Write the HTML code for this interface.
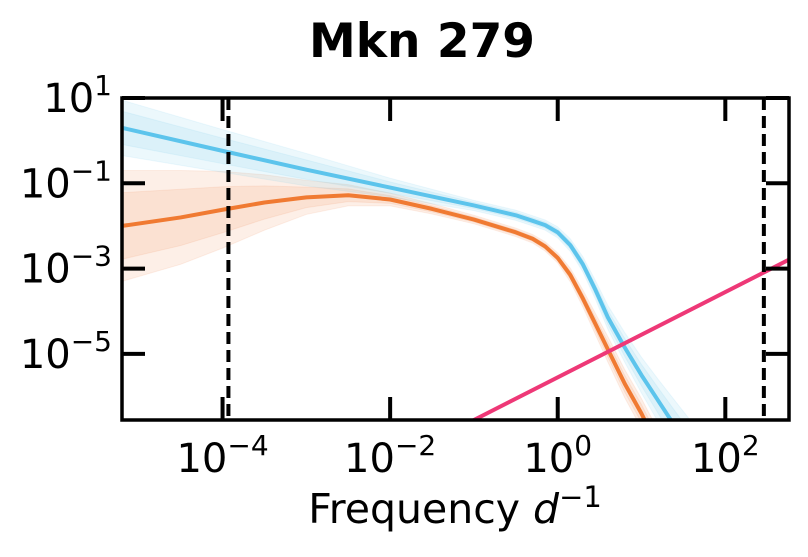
<!DOCTYPE html>
<html><head><meta charset="utf-8"><style>
body{margin:0;background:#fff;}
svg text{font-family:"DejaVu Sans","Liberation Sans",sans-serif;fill:#000;}
</style></head><body>
<svg id="chart" width="808" height="552" viewBox="0 0 808 552">
<defs><clipPath id="clip"><rect x="122" y="98" width="667" height="322"/></clipPath></defs>
<text x="422" y="57" font-size="47" font-weight="bold" text-anchor="middle">Mkn 279</text>
<g id="plot" clip-path="url(#clip)"></g>
<g id="axes"></g>
<text x="455" y="523" font-size="41" text-anchor="middle">Frequency <tspan font-style="italic">d</tspan><tspan font-size="29" dy="-16">−1</tspan></text>
</svg>
<script>
// log10 frequency grid / log10 power values
const blueF = [-5.2,-4,-3,-2,-1,-0.5,-0.3,-0.15,0,0.15,0.3,0.45,0.6,0.8,1.0,1.2,1.4,1.6];
const blueP = [0.30,-0.24,-0.68,-1.1,-1.52,-1.75,-1.88,-1.98,-2.15,-2.45,-2.9,-3.5,-4.15,-4.85,-5.5,-6.1,-6.7,-7.3];
const blueW = [0.65,0.5,0.38,0.22,0.12,0.12,0.12,0.12,0.13,0.15,0.18,0.22,0.28,0.35,0.42,0.5,0.6,0.7];
const orangeF = [-5.2,-4.5,-4,-3.5,-3,-2.5,-2,-1.5,-1,-0.5,-0.3,-0.15,0,0.15,0.3,0.45,0.6,0.8,1.0,1.2];
const orangeP = [-2.0,-1.8,-1.62,-1.45,-1.33,-1.28,-1.38,-1.6,-1.85,-2.15,-2.3,-2.48,-2.75,-3.15,-3.7,-4.3,-4.9,-5.7,-6.4,-7.2];
const orangeW = [1.3,1.1,0.9,0.65,0.4,0.25,0.15,0.12,0.1,0.1,0.1,0.11,0.12,0.16,0.2,0.25,0.3,0.33,0.35,0.4];
const noiseF = [-1.5, 3];
const noiseP = [-7.05, -2.55];
const dashedF = [-3.93, 2.46];
const xTicks = [-4,-2,0,2];
const yTicks = [1,-1,-3,-5];

const L=122,R=789,T=98,B=420;
const xmin=-5.2,xmax=2.76,ymin=-6.55,ymax=1;
const sx=v=>L+(v-xmin)/(xmax-xmin)*(R-L);
const sy=v=>T+(ymax-v)/(ymax-ymin)*(B-T);
const NS='http://www.w3.org/2000/svg';
const plot=document.getElementById('plot'), axes=document.getElementById('axes');
function mk(tag,attrs,parent){const e=document.createElementNS(NS,tag);for(const k in attrs)e.setAttribute(k,attrs[k]);parent.appendChild(e);return e;}
function band(F,P,W,color,name,scale){
  let d='';F.forEach((f,i)=>{d+=(i?'L':'M')+sx(f)+','+sy(P[i]+W[i]*scale);});
  for(let i=F.length-1;i>=0;i--)d+='L'+sx(F[i])+','+sy(P[i]-W[i]*scale);
  const p=mk('path',{d:d+'Z',fill:color,'fill-opacity':0.12,stroke:color,'stroke-opacity':0.1,'stroke-linejoin':'round'},plot);
  
  
}
function line(F,P,color,name,w){
  const d=F.map((f,i)=>(i?'L':'M')+sx(f)+','+sy(P[i])).join('');
  const p=mk('path',{d:d,fill:'none',stroke:color,'stroke-width':w,'stroke-linejoin':'round'},plot);
  
  
}
band(orangeF,orangeP,orangeW,'#f07a3a','orange-band-outer',1);
band(orangeF,orangeP,orangeW,'#f07a3a','orange-band-inner',0.6);
band(blueF,blueP,blueW,'#66c5ea','blue-band-outer',1);
band(blueF,blueP,blueW,'#66c5ea','blue-band-inner',0.6);
line(blueF,blueP,'#5cc4ec','blue-psd-line',4);
line(orangeF,orangeP,'#f07a32','orange-psd-line',4);
line(noiseF,noiseP,'#ee3877','noise-line',4);
dashedF.forEach((f,i)=>{
  const l=mk('line',{x1:sx(f),x2:sx(f),y1:T,y2:B,stroke:'#000','stroke-width':4,'stroke-dasharray':'12,6'},plot);
  
  
});
const fr=mk('rect',{x:L,y:T,width:R-L,height:B-T,fill:'none',stroke:'#000','stroke-width':3.5},axes);


xTicks.forEach(v=>{
  const x=sx(v);
  mk('line',{x1:x,x2:x,y1:B,y2:B-23,stroke:'#000','stroke-width':4},axes);
  mk('line',{x1:x,x2:x,y1:T,y2:T+23,stroke:'#000','stroke-width':4},axes);
  const t=mk('text',{x:x,y:472,'font-size':40,'text-anchor':'middle'},axes);
  
  
  t.innerHTML='10<tspan font-size="28" dy="-17">'+(v<0?'−'+(-v):v)+'</tspan>';
});
yTicks.forEach(v=>{
  const y=sy(v);
  mk('line',{x1:L,x2:L+23,y1:y,y2:y,stroke:'#000','stroke-width':4},axes);
  mk('line',{x1:R,x2:R-23,y1:y,y2:y,stroke:'#000','stroke-width':4},axes);
  const t=mk('text',{x:112,y:y+14,'font-size':40,'text-anchor':'end'},axes);
  
  
  t.innerHTML='10<tspan font-size="28" dy="-17">'+(v<0?'−'+(-v):v)+'</tspan>';
});
</script>
</body></html>
